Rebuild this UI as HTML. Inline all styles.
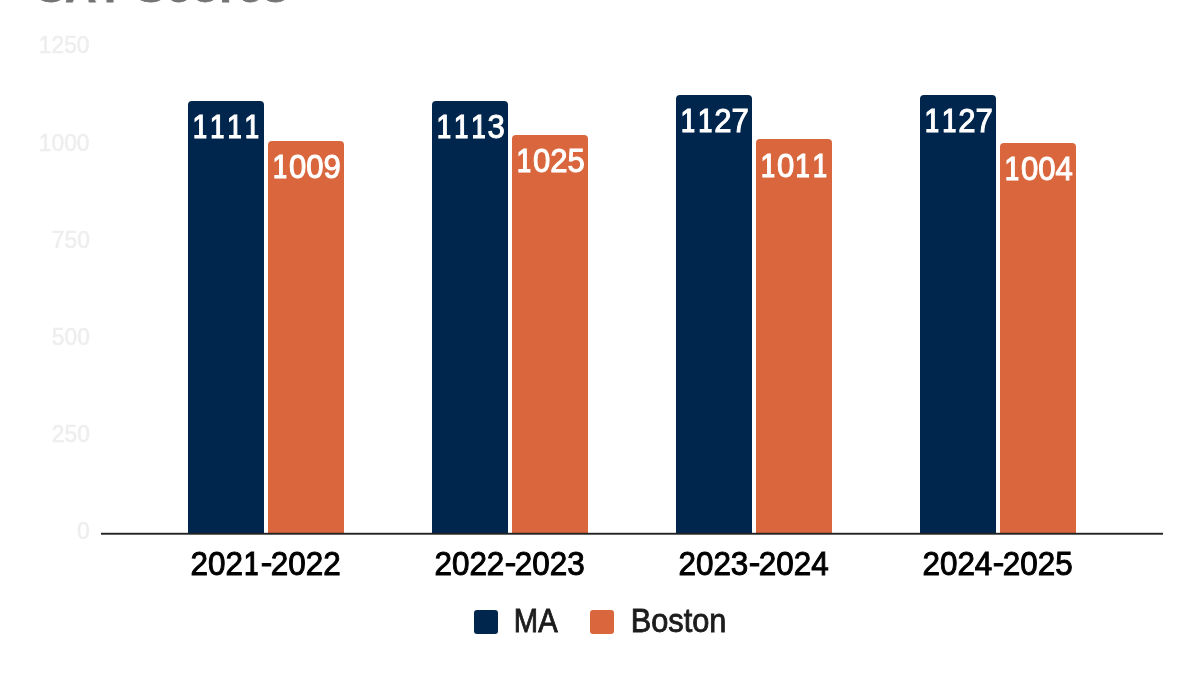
<!DOCTYPE html>
<html>
<head>
<meta charset="utf-8">
<title>SAT Scores</title>
<style>
  html, body { margin: 0; padding: 0; background: #ffffff; }
  body { width: 1200px; height: 675px; position: relative; overflow: hidden;
         font-family: "Liberation Sans", sans-serif; font-kerning: none; font-variant-ligatures: none; }
  .abs { position: absolute; will-change: transform; }
  .title { left: 38px; top: -38px; font-size: 45px; font-weight: bold; color: #747474;
           line-height: 50px; white-space: nowrap; transform-origin: left top; -webkit-text-stroke: 0.8px #747474; }
  .ytick { left: 10px; width: 80px; text-align: right; font-size: 24.5px; line-height: 28px;
           color: #eeeeee; white-space: nowrap; -webkit-text-stroke: 0.6px #eeeeee; }
  .ytick span { display: inline-block; transform: scaleX(0.93); transform-origin: right center; }
  .bar { width: 76px; border-radius: 4px 4px 0 0; }
  .navy { background: #00264d; }
  .orange { background: #d9663c; }
  .val { width: 96px; margin-left: -10px; text-align: center; color: #ffffff; font-size: 33.5px; line-height: 36px;
         white-space: nowrap; -webkit-text-stroke: 1.0px #ffffff; }
  .val span, .xl span, .lg span { display: inline-block; }
  .val i, .xl i { font-style: normal; display: inline-block; clip-path: inset(0 0.084em 0 0.09em); }
  .val span { transform: scaleX(0.929); }
  .axis { left: 101px; top: 532px; width: 1062px; height: 3px; background: linear-gradient(to bottom, rgba(34,34,34,0.2) 0, rgba(34,34,34,0.2) 1px, #222222 1px, #222222 2px, rgba(34,34,34,0.7) 2px, rgba(34,34,34,0.7) 3px); }
  .xl { width: 244px; text-align: center; top: 545px; font-size: 34px; line-height: 36px;
        color: #000000; white-space: nowrap; -webkit-text-stroke: 1.0px #000000; }
  .xl b { font-weight: normal; display: inline-block; transform: translate(0.5px,-1px) scaleX(1.1); }
  .xl span { transform: translate(-0.7px,-0.4px) scaleX(0.925); }
  .sw { width: 23.8px; height: 23.8px; border-radius: 3px; top: 610px; }
  .lg { top: 602.6px; font-size: 33.5px; line-height: 36px; color: #1c1c1c; white-space: nowrap; -webkit-text-stroke: 0.9px #1c1c1c; }
  .lg span { transform-origin: left center; }
</style>
</head>
<body>
  <div class="abs title" style="left:36px;transform:scaleX(0.97)">SAT</div>
  <div class="abs title" style="left:134.5px;transform:scaleX(1.022)">Scores</div>

  <div class="abs ytick" style="top:30.7px"><span>1250</span></div>
  <div class="abs ytick" style="top:128.6px"><span>1000</span></div>
  <div class="abs ytick" style="top:226.3px"><span>750</span></div>
  <div class="abs ytick" style="top:323px"><span>500</span></div>
  <div class="abs ytick" style="top:419.5px"><span>250</span></div>
  <div class="abs ytick" style="top:516.7px"><span>0</span></div>

  <!-- bars -->
  <div class="abs bar navy"   style="left:188px;  top:101px; height:433px"></div>
  <div class="abs bar orange" style="left:268px;  top:141px; height:393px"></div>
  <div class="abs bar navy"   style="left:432px;  top:101px; height:433px"></div>
  <div class="abs bar orange" style="left:512px;  top:135px; height:399px"></div>
  <div class="abs bar navy"   style="left:676px;  top:95px;  height:439px"></div>
  <div class="abs bar orange" style="left:756px;  top:139px; height:395px"></div>
  <div class="abs bar navy"   style="left:920px;  top:95px;  height:439px"></div>
  <div class="abs bar orange" style="left:1000px; top:143px; height:391px"></div>

  <!-- value labels -->
  <div class="abs val" style="left:188px;  top:109px"><span><i>1</i><i>1</i><i>1</i><i>1</i></span></div>
  <div class="abs val" style="left:268px;  top:149px"><span><i>1</i>009</span></div>
  <div class="abs val" style="left:432px;  top:109px"><span><i>1</i><i>1</i><i>1</i>3</span></div>
  <div class="abs val" style="left:512px;  top:143px"><span><i>1</i>025</span></div>
  <div class="abs val" style="left:676px;  top:103px"><span><i>1</i><i>1</i>27</span></div>
  <div class="abs val" style="left:756px;  top:148px"><span><i>1</i>0<i>1</i><i>1</i></span></div>
  <div class="abs val" style="left:920px;  top:103px"><span><i>1</i><i>1</i>27</span></div>
  <div class="abs val" style="left:1000px; top:151px"><span><i>1</i>004</span></div>

  <div class="abs axis"></div>

  <div class="abs xl" style="left:144px"><span>202<i>1</i><b>-</b>2022</span></div>
  <div class="abs xl" style="left:388px"><span>2022<b>-</b>2023</span></div>
  <div class="abs xl" style="left:632px"><span>2023<b>-</b>2024</span></div>
  <div class="abs xl" style="left:876px"><span>2024<b>-</b>2025</span></div>

  <!-- legend -->
  <div class="abs sw navy" style="left:474px"></div>
  <div class="abs lg" style="left:513.7px"><span style="transform:translate(-0.2px,0px) scaleX(0.872)">MA</span></div>
  <div class="abs sw orange" style="left:589.6px"></div>
  <div class="abs lg" style="left:630.5px"><span style="transform:translate(-0.3px,0px) scaleX(0.918)">Boston</span></div>
</body>
</html>
